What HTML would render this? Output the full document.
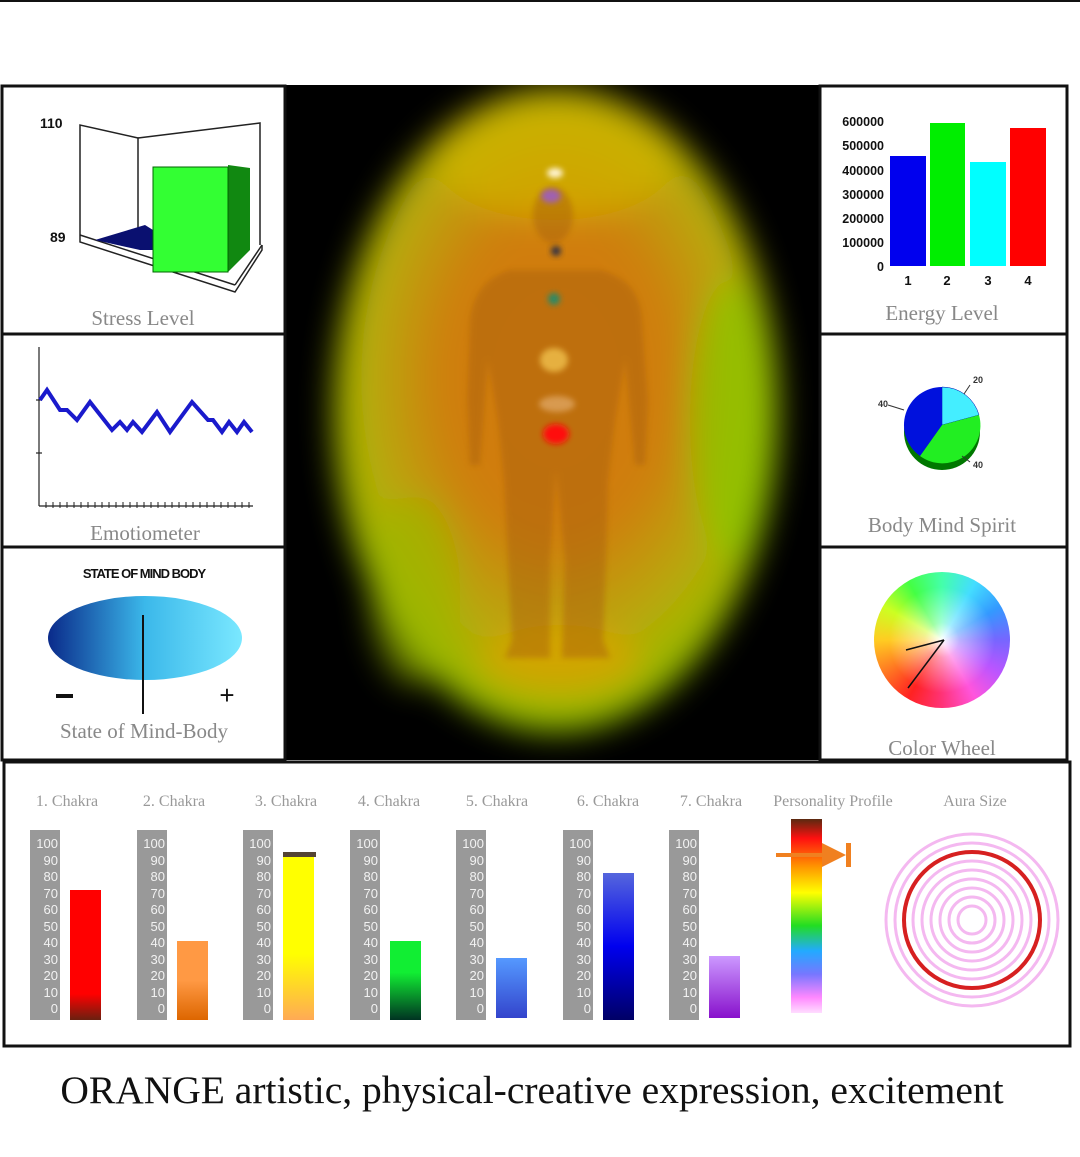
<!DOCTYPE html>
<html><head><meta charset="utf-8"><style>
body{margin:0;background:#fff;width:1080px;height:1157px;overflow:hidden;position:relative;font-family:"Liberation Sans",sans-serif}
svg{position:absolute;left:0;top:0}
.wheel{position:absolute;left:874px;top:572px;width:136px;height:136px;border-radius:50%;
background:conic-gradient(from 0deg,#44ffaa,#44ddff,#3399ff,#7766ff,#bb55ff,#ff55dd,#ff3377,#ff2222,#ff7722,#ffcc22,#ccff22,#44ff44,#44ffaa);}
.wheel:after{content:"";position:absolute;inset:0;border-radius:50%;background:radial-gradient(circle,#fff 0%,rgba(255,255,255,.5) 18%,rgba(255,255,255,0) 55%)}
</style></head><body>
<svg width="1080" height="1157" viewBox="0 0 1080 1157" font-family="Liberation Serif,serif">
<defs>
<clipPath id="cc"><rect x="285" y="85" width="535" height="675"/></clipPath>
<radialGradient id="aura" cx="0.5" cy="0.45" r="0.55">
<stop offset="0" stop-color="#d27a10"/><stop offset="0.45" stop-color="#cf7e0a"/><stop offset="0.75" stop-color="#b9a808"/><stop offset="1" stop-color="#8fbf00"/></radialGradient>
<filter id="blur" x="-30%" y="-30%" width="160%" height="160%"><feGaussianBlur stdDeviation="16"/></filter>
<filter id="b3" x="-50%" y="-50%" width="200%" height="200%"><feGaussianBlur stdDeviation="3"/></filter>
<linearGradient id="som" x1="0" x2="1"><stop offset="0" stop-color="#0a2a8a"/><stop offset="0.5" stop-color="#3bb8ea"/><stop offset="1" stop-color="#7ae8ff"/></linearGradient>
<linearGradient id="pp" x1="0" y1="0" x2="0" y2="1"><stop offset="0" stop-color="#5a2a10"/><stop offset="0.1" stop-color="#ff1010"/><stop offset="0.25" stop-color="#ff9900"/><stop offset="0.38" stop-color="#ffff00"/><stop offset="0.55" stop-color="#22dd22"/><stop offset="0.68" stop-color="#22aaff"/><stop offset="0.8" stop-color="#7777ff"/><stop offset="0.92" stop-color="#ff88ff"/><stop offset="1" stop-color="#ffddff"/></linearGradient>
<linearGradient id="c1" x1="0" y1="0" x2="0" y2="1"><stop offset="0.8" stop-color="#ff0000"/><stop offset="1" stop-color="#6a2010"/></linearGradient>
<linearGradient id="c2" x1="0" y1="0" x2="0" y2="1"><stop offset="0.5" stop-color="#ff9944"/><stop offset="1" stop-color="#dd6600"/></linearGradient>
<linearGradient id="c3" x1="0" y1="0" x2="0" y2="1"><stop offset="0.6" stop-color="#ffff00"/><stop offset="1" stop-color="#ffaa55"/></linearGradient>
<linearGradient id="c4" x1="0" y1="0" x2="0" y2="1"><stop offset="0.4" stop-color="#11ee33"/><stop offset="1" stop-color="#003322"/></linearGradient>
<linearGradient id="c5" x1="0" y1="0" x2="0" y2="1"><stop offset="0" stop-color="#5599ff"/><stop offset="1" stop-color="#3344cc"/></linearGradient>
<linearGradient id="c6" x1="0" y1="0" x2="0" y2="1"><stop offset="0" stop-color="#5566dd"/><stop offset="0.5" stop-color="#0000ee"/><stop offset="1" stop-color="#000066"/></linearGradient>
<linearGradient id="c7" x1="0" y1="0" x2="0" y2="1"><stop offset="0" stop-color="#cc99ff"/><stop offset="1" stop-color="#8811cc"/></linearGradient>
</defs>
<line x1="0" y1="1" x2="1080" y2="1" stroke="#111" stroke-width="2"/>
<!-- center -->
<rect x="285" y="85" width="535" height="675" fill="#000"/>
<g clip-path="url(#cc)">
<g filter="url(#blur)">
<ellipse cx="556" cy="410" rx="222" ry="322" fill="url(#aura)"/>
<ellipse cx="555" cy="160" rx="120" ry="60" fill="#d4b800" opacity="0.6"/>
<ellipse cx="730" cy="420" rx="40" ry="140" fill="#88c800" opacity="0.7"/>
<ellipse cx="415" cy="590" rx="45" ry="95" fill="#9ab800" opacity="0.6"/>
<ellipse cx="560" cy="660" rx="80" ry="35" fill="#e6a000" opacity="0.6"/>
</g>
<g fill="#a8600a" opacity="0.45" filter="url(#b3)">
<ellipse cx="553" cy="215" rx="20" ry="28"/>
<path d="M510 270 L600 270 Q640 280 642 320 L648 400 L645 465 L635 465 L625 360 L615 420 L608 480 L606 560 L603 640 L610 658 L562 658 L565 560 L556 470 L550 560 L550 658 L505 658 L512 640 L508 560 L504 480 L498 420 L488 360 L480 465 L470 465 L467 400 L470 320 Q475 280 510 270Z"/>
</g>
</g>
<ellipse cx="555" cy="173" rx="8" ry="5" fill="#fff4d0" filter="url(#b3)"/>
<ellipse cx="551" cy="196" rx="10" ry="7" fill="#a060b0" filter="url(#b3)"/>
<ellipse cx="556" cy="251" rx="5" ry="5" fill="#334" filter="url(#b3)"/>
<ellipse cx="554" cy="299" rx="6" ry="6" fill="#2a8a66" filter="url(#b3)"/>
<ellipse cx="554" cy="360" rx="14" ry="12" fill="#e6b040" filter="url(#b3)"/>
<ellipse cx="557" cy="404" rx="18" ry="8" fill="#d89a50" filter="url(#b3)"/>
<ellipse cx="556" cy="434" rx="13" ry="10" fill="#ff1010" filter="url(#b3)"/>
<!-- frames -->
<g fill="none" stroke="#111" stroke-width="3">
<rect x="2" y="86" width="283" height="674"/>
<line x1="2" y1="334" x2="285" y2="334"/><line x1="2" y1="547" x2="285" y2="547"/>
<rect x="820" y="86" width="247" height="674"/>
<line x1="820" y1="334" x2="1067" y2="334"/><line x1="820" y1="547" x2="1067" y2="547"/>
<rect x="4" y="762" width="1066" height="284"/>
</g>
<!-- stress -->
<g font-family="Liberation Sans,sans-serif" font-weight="bold" font-size="14" fill="#111">
<text x="40" y="128">110</text><text x="50" y="242">89</text></g>
<g stroke="#222" stroke-width="1.5" fill="none">
<polyline points="80,235 80,125 138,138 138,240"/><polyline points="138,138 260,123 260,245"/>
<polyline points="80,235 80,242 235,292 262,250 262,245"/>
<line x1="80" y1="235" x2="235" y2="285"/><line x1="235" y1="285" x2="262" y2="245"/></g>
<polygon points="95,240 145,225 153,230 153,250 140,250" fill="#0a1070"/>
<polygon points="228,165 250,168 250,250 228,272" fill="#118811"/>
<rect x="153" y="167" width="75" height="105" fill="#33ff33" stroke="#060" stroke-width="1"/>
<text x="143" y="325" font-size="21" fill="#888" text-anchor="middle">Stress Level</text>
<!-- emotiometer -->
<g stroke="#222" stroke-width="1.2"><line x1="39" y1="347" x2="39" y2="506"/><line x1="39" y1="506" x2="253" y2="506"/>
<line x1="36" y1="400" x2="42" y2="400"/><line x1="36" y1="453" x2="42" y2="453"/></g>
<path d="M46 502 v6 M53 502 v6 M60 502 v6 M67 502 v6 M74 502 v6 M81 502 v6 M88 502 v6 M95 502 v6 M102 502 v6 M109 502 v6 M116 502 v6 M123 502 v6 M130 502 v6 M137 502 v6 M144 502 v6 M151 502 v6 M158 502 v6 M165 502 v6 M172 502 v6 M179 502 v6 M186 502 v6 M193 502 v6 M200 502 v6 M207 502 v6 M214 502 v6 M221 502 v6 M228 502 v6 M235 502 v6 M242 502 v6 M249 502 v6" stroke="#222"/>
<polyline points="40,400 47,390 60,410 67,410 77,420 90,402 112,430 120,422 127,430 133,422 142,432 157,412 170,432 192,402 208,420 213,420 222,432 229,422 237,432 244,422 252,432" fill="none" stroke="#1a1acc" stroke-width="4"/>
<text x="145" y="540" font-size="21" fill="#888" text-anchor="middle">Emotiometer</text>
<!-- state -->
<text x="144" y="578" font-family="Liberation Sans,sans-serif" font-weight="bold" font-size="13" letter-spacing="-1" text-anchor="middle" fill="#111">STATE OF MIND BODY</text>
<ellipse cx="145" cy="638" rx="97" ry="42" fill="url(#som)"/>
<line x1="143" y1="615" x2="143" y2="714" stroke="#111" stroke-width="2"/>
<rect x="56" y="694" width="17" height="4" fill="#111"/>
<text x="227" y="704" font-size="26" text-anchor="middle" font-family="Liberation Sans,sans-serif" fill="#111">+</text>
<text x="144" y="738" font-size="21" fill="#888" text-anchor="middle">State of Mind-Body</text>
<!-- energy -->
<g font-family="Liberation Sans,sans-serif" font-weight="bold" font-size="12.5" fill="#111" text-anchor="end">
<text x="884" y="126">600000</text><text x="884" y="150">500000</text><text x="884" y="175">400000</text><text x="884" y="199">300000</text><text x="884" y="223">200000</text><text x="884" y="247">100000</text><text x="884" y="271">0</text></g>
<rect x="890" y="156" width="36" height="110" fill="#0000ee"/>
<rect x="930" y="123" width="35" height="143" fill="#00ee00"/>
<rect x="970" y="162" width="36" height="104" fill="#00ffff"/>
<rect x="1010" y="128" width="36" height="138" fill="#ff0000"/>
<g font-family="Liberation Sans,sans-serif" font-weight="bold" font-size="13" fill="#111" text-anchor="middle">
<text x="908" y="285">1</text><text x="947" y="285">2</text><text x="988" y="285">3</text><text x="1028" y="285">4</text></g>
<text x="942" y="320" font-size="21" fill="#888" text-anchor="middle">Energy Level</text>
<!-- pie -->
<ellipse cx="942" cy="432" rx="38" ry="38" fill="#007700"/>
<path d="M942 425 L942 387 A38 38 0 0 1 979 415 Z" fill="#44eeff" stroke="#00a" stroke-width="0.5"/>
<path d="M942 425 L979 415 A38 38 0 0 1 920 456 Z" fill="#22ee22"/>
<path d="M942 425 L920 456 A38 38 0 0 1 942 387 Z" fill="#0011dd"/>
<g font-family="Liberation Sans,sans-serif" font-size="9" font-weight="bold" fill="#333">
<text x="878" y="407">40</text><text x="973" y="383">20</text><text x="973" y="468">40</text></g>
<g stroke="#333"><line x1="888" y1="405" x2="904" y2="410"/><line x1="970" y1="385" x2="964" y2="394"/><line x1="970" y1="462" x2="962" y2="456"/></g>
<text x="942" y="532" font-size="21" fill="#888" text-anchor="middle">Body Mind Spirit</text>
<text x="942" y="755" font-size="21" fill="#888" text-anchor="middle">Color Wheel</text>
<!-- bottom titles -->
<g font-size="16" fill="#999" text-anchor="middle">
<text x="67" y="806">1. Chakra</text><text x="174" y="806">2. Chakra</text><text x="286" y="806">3. Chakra</text><text x="389" y="806">4. Chakra</text><text x="497" y="806">5. Chakra</text><text x="608" y="806">6. Chakra</text><text x="711" y="806">7. Chakra</text><text x="833" y="806">Personality Profile</text><text x="975" y="806">Aura Size</text></g>
<!-- scales -->
<g id="sc">
<rect x="30" y="830" width="30" height="190" fill="#999"/>
<g font-family="Liberation Sans,sans-serif" font-size="13" fill="#f2f2f2" text-anchor="end">
<text x="58" y="848">100</text><text x="58" y="865">90</text><text x="58" y="881">80</text><text x="58" y="898">70</text><text x="58" y="914">60</text><text x="58" y="931">50</text><text x="58" y="947">40</text><text x="58" y="964">30</text><text x="58" y="980">20</text><text x="58" y="997">10</text><text x="58" y="1013">0</text></g></g>
<use href="#sc" x="107"/><use href="#sc" x="213"/><use href="#sc" x="320"/><use href="#sc" x="426"/><use href="#sc" x="533"/><use href="#sc" x="639"/>
<rect x="70" y="890" width="31" height="130" fill="url(#c1)"/>
<rect x="177" y="941" width="31" height="79" fill="url(#c2)"/>
<rect x="283" y="855" width="31" height="165" fill="url(#c3)"/><rect x="283" y="852" width="33" height="5" fill="#554433"/>
<rect x="390" y="941" width="31" height="79" fill="url(#c4)"/>
<rect x="496" y="958" width="31" height="60" fill="url(#c5)"/>
<rect x="603" y="873" width="31" height="147" fill="url(#c6)"/>
<rect x="709" y="956" width="31" height="62" fill="url(#c7)"/>
<!-- personality -->
<rect x="791" y="819" width="31" height="194" fill="url(#pp)"/>
<line x1="776" y1="855" x2="826" y2="855" stroke="#f08020" stroke-width="4"/>
<polygon points="822,843 846,855 822,867" fill="#f08020"/><rect x="846" y="843" width="5" height="24" fill="#f08020"/>
<!-- aura size -->
<g fill="none" stroke="#f4b8f0" stroke-width="3">
<circle cx="972" cy="920" r="86"/><circle cx="972" cy="920" r="77"/><circle cx="972" cy="920" r="59"/><circle cx="972" cy="920" r="50"/><circle cx="972" cy="920" r="41"/><circle cx="972" cy="920" r="32"/><circle cx="972" cy="920" r="23"/><circle cx="972" cy="920" r="14"/></g>
<circle cx="972" cy="920" r="68" fill="none" stroke="#d62020" stroke-width="4"/>
<text x="532" y="1103" font-size="39.5" fill="#111" text-anchor="middle">ORANGE artistic, physical-creative expression, excitement</text>
</svg>
<div class="wheel"></div>
<svg width="1080" height="1157"><g stroke="#111" stroke-width="1.5"><line x1="944" y1="640" x2="908" y2="688"/><line x1="944" y1="640" x2="906" y2="650"/></g></svg>
</body></html>
